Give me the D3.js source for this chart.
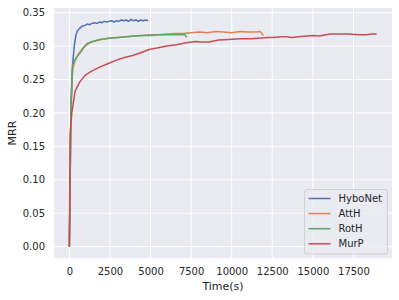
<!DOCTYPE html>
<html>
<head>
<meta charset="utf-8">
<script src="https://cdn.jsdelivr.net/npm/d3@7"></script>
<style>
  body { margin: 0; background: #fff; }
  text { font-family: "DejaVu Sans", sans-serif; fill: #262626; }
</style>
</head>
<body>
<script>
// training time (s) vs validation MRR
const hyboT = [0, 100, 200, 300, 400, 500, 650, 800, 950, 1100, 1250, 1400, 1550, 1700, 1850, 2000, 2150, 2300, 2450, 2600, 2750, 2900, 3050, 3200, 3350, 3500, 3650, 3800, 3950, 4100, 4250, 4400, 4550, 4700, 4850];
const hyboMRR = [0, 0.215, 0.272, 0.300, 0.316, 0.323, 0.327, 0.330, 0.331, 0.333, 0.332, 0.334, 0.335, 0.334, 0.336, 0.335, 0.337, 0.336, 0.337, 0.338, 0.336, 0.338, 0.337, 0.339, 0.338, 0.339, 0.337, 0.340, 0.338, 0.339, 0.337, 0.339, 0.338, 0.339, 0.338];

const attT = [0, 100, 200, 350, 500, 700, 900, 1200, 1500, 1800, 2200, 2600, 3000, 3500, 4000, 4500, 5000, 5500, 6000, 6500, 7000, 7500, 8000, 8500, 9000, 9500, 10000, 10500, 11000, 11500, 11750, 11950];
const attMRR = [0, 0.200, 0.265, 0.278, 0.286, 0.293, 0.299, 0.304, 0.307, 0.309, 0.311, 0.312, 0.313, 0.314, 0.315, 0.316, 0.317, 0.317, 0.318, 0.319, 0.319, 0.320, 0.321, 0.320, 0.322, 0.321, 0.320, 0.322, 0.321, 0.321, 0.322, 0.316];

const rotT = [0, 100, 200, 350, 500, 700, 900, 1100, 1300, 1600, 1900, 2200, 2600, 3000, 3500, 4000, 4500, 5000, 5500, 6000, 6500, 7000, 7100, 7230];
const rotMRR = [0, 0.210, 0.272, 0.280, 0.285, 0.291, 0.298, 0.304, 0.306, 0.308, 0.310, 0.311, 0.312, 0.313, 0.314, 0.315, 0.316, 0.316, 0.317, 0.317, 0.317, 0.317, 0.318, 0.313];

const murT = [0, 50, 150, 350, 600, 1000, 1400, 1900, 2400, 2900, 3400, 3900, 4400, 4900, 5400, 6000, 6600, 7200, 7800, 8100, 8600, 9200, 9800, 10500, 11200, 11800, 12200, 12600, 13000, 13400, 13700, 14100, 14600, 15000, 15400, 15800, 16100, 16600, 17200, 17800, 18300, 18600, 18930];
const murMRR = [0, 0.170, 0.200, 0.232, 0.245, 0.257, 0.263, 0.269, 0.274, 0.279, 0.283, 0.286, 0.290, 0.295, 0.297, 0.300, 0.302, 0.305, 0.307, 0.306, 0.306, 0.309, 0.310, 0.311, 0.311, 0.312, 0.313, 0.313, 0.314, 0.314, 0.313, 0.314, 0.315, 0.316, 0.315, 0.317, 0.318, 0.318, 0.318, 0.317, 0.317, 0.318, 0.318];

const xTicks = [0, 2500, 5000, 7500, 10000, 12500, 15000, 17500];
const yTicks = [0, 0.05, 0.10, 0.15, 0.20, 0.25, 0.30, 0.35];

const series = [
  { name: "HyboNet", t: hyboT, v: hyboMRR, color: "#4C72B0" },
  { name: "AttH", t: attT, v: attMRR, color: "#DD8452" },
  { name: "RotH", t: rotT, v: rotMRR, color: "#55A868" },
  { name: "MurP", t: murT, v: murMRR, color: "#C44E52" }
];

const width = 399, height = 300;
const plot = { left: 54, right: 392, top: 8, bottom: 258 };

const svg = d3.select("body").append("svg")
  .attr("width", width)
  .attr("height", height);

// matplotlib style 5% margins
const xMax = 18930, yMax = 0.340;
const x = d3.scaleLinear()
  .domain([-0.05 * xMax, 1.05 * xMax])
  .range([plot.left, plot.right]);
const y = d3.scaleLinear()
  .domain([-0.05 * yMax, 1.05 * yMax])
  .range([plot.bottom, plot.top]);

svg.append("rect")
  .attr("x", plot.left).attr("y", plot.top)
  .attr("width", plot.right - plot.left)
  .attr("height", plot.bottom - plot.top)
  .attr("fill", "#EAEAF2");

// grid
svg.append("g").selectAll("line")
  .data(xTicks).enter().append("line")
  .attr("x1", (d) => x(d)).attr("x2", (d) => x(d))
  .attr("y1", plot.top).attr("y2", plot.bottom)
  .attr("stroke", "#fff").attr("stroke-width", 1);
svg.append("g").selectAll("line")
  .data(yTicks).enter().append("line")
  .attr("x1", plot.left).attr("x2", plot.right)
  .attr("y1", (d) => y(d)).attr("y2", (d) => y(d))
  .attr("stroke", "#fff").attr("stroke-width", 1);

// axes (no tick marks, seaborn darkgrid)
const xAxis = d3.axisBottom(x).tickValues(xTicks).tickSize(0).tickPadding(10).tickFormat(d3.format("d"));
svg.append("g")
  .attr("transform", "translate(0," + plot.bottom + ")")
  .call(xAxis)
  .call((g) => g.select(".domain").remove())
  .selectAll("text").style("font-size", "10px").attr("fill", "#262626");

const yAxis = d3.axisLeft(y).tickValues(yTicks).tickSize(0).tickPadding(9).tickFormat(d3.format(".2f"));
svg.append("g")
  .attr("transform", "translate(" + plot.left + ",0)")
  .call(yAxis)
  .call((g) => g.select(".domain").remove())
  .selectAll("text").style("font-size", "10px").attr("fill", "#262626");

// lines
const line = d3.line()
  .x((d) => x(d[0]))
  .y((d) => y(d[1]));

series.forEach((s) => {
  svg.append("path")
    .datum(s.t.map((t, i) => [t, s.v[i]]))
    .attr("fill", "none")
    .attr("stroke", s.color)
    .attr("stroke-width", 1.5)
    .attr("stroke-linejoin", "round")
    .attr("d", line);
});

// labels
svg.append("text")
  .attr("x", (plot.left + plot.right) / 2)
  .attr("y", 290)
  .attr("text-anchor", "middle")
  .style("font-size", "11px")
  .text("Time(s)");

svg.append("text")
  .attr("transform", "translate(16," + ((plot.top + plot.bottom) / 2) + ")rotate(-90)")
  .attr("text-anchor", "middle")
  .style("font-size", "11px")
  .text("MRR");

// legend
const legend = svg.append("g").attr("transform", "translate(304.5,189.5)");
legend.append("rect")
  .attr("width", 83).attr("height", 64.5)
  .attr("rx", 2.5)
  .attr("fill", "#EAEAF2").attr("fill-opacity", 0.8)
  .attr("stroke", "#cccccc").attr("stroke-width", 0.8);

const items = legend.selectAll(".item")
  .data(series).enter().append("g")
  .attr("transform", (d, i) => "translate(0," + (9 + i * 15.1) + ")");
items.append("line")
  .attr("x1", 4).attr("x2", 26)
  .attr("stroke", (d) => d.color)
  .attr("stroke-width", 1.5);
items.append("text")
  .attr("x", 34).attr("y", 3.5)
  .style("font-size", "10px")
  .text((d) => d.name);
</script>
</body>
</html>
